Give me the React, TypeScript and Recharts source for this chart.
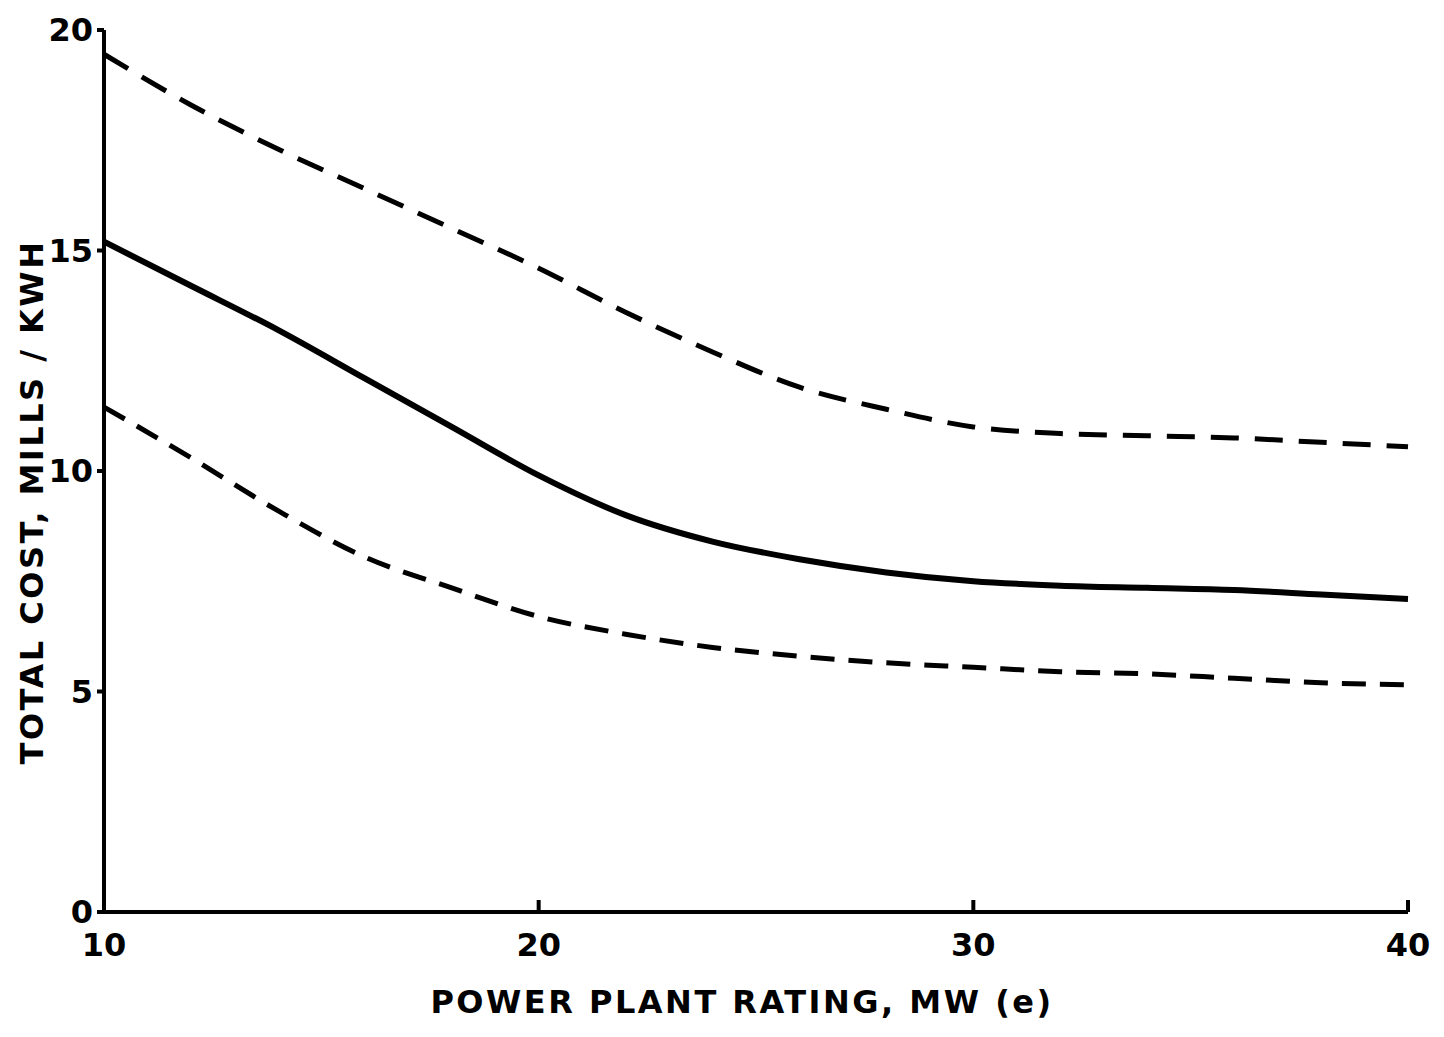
import { LineChart, Line, XAxis, YAxis } from "recharts";

const ratings = [10, 12, 14, 16, 18, 20, 22, 24, 26, 28, 30, 32, 34, 36, 38, 40];
const upperCost = [19.45, 18.3, 17.3, 16.4, 15.5, 14.6, 13.6, 12.7, 11.9, 11.4, 11.0, 10.85, 10.8, 10.75, 10.65, 10.55];
const totalCost = [15.2, 14.2, 13.2, 12.1, 11.0, 9.9, 9.0, 8.4, 8.0, 7.7, 7.5, 7.4, 7.35, 7.3, 7.2, 7.1];
const lowerCost = [11.45, 10.3, 9.1, 8.05, 7.35, 6.7, 6.3, 6.0, 5.8, 5.65, 5.55, 5.45, 5.4, 5.3, 5.2, 5.15];

const xTicks = [10, 20, 30, 40];
const yTicks = [0, 5, 10, 15, 20];

const data = ratings.map((r, i) => ({
  rating: r,
  upper: upperCost[i],
  total: totalCost[i],
  lower: lowerCost[i],
}));

const font = "'DejaVu Sans', sans-serif";

function XTick(props: any) {
  const { x, y, payload } = props;
  return (
    <g>
      {payload.value !== 10 && (
        <line x1={x} y1={y} x2={x} y2={y - 12} stroke="#000" strokeWidth={4} />
      )}
      <text
        x={x}
        y={y + 44}
        textAnchor="middle"
        fontFamily={font}
        fontWeight="bold"
        fontSize={32}
        fill="#000"
      >
        {payload.value}
      </text>
    </g>
  );
}

function XLabel() {
  return (
    <text
      x={742}
      y={1013}
      textAnchor="middle"
      fontFamily={font}
      fontWeight="bold"
      fontSize={32}
      letterSpacing={2.5}
      fill="#000"
    >
      POWER PLANT RATING, MW (e)
    </text>
  );
}

function YLabel() {
  return (
    <text
      x={43}
      y={502}
      transform="rotate(-90 43 502)"
      textAnchor="middle"
      fontFamily={font}
      fontWeight="bold"
      fontSize={32}
      letterSpacing={2.5}
      fill="#000"
    >
      TOTAL COST, MILLS / KWH
    </text>
  );
}

export default function App() {
  return (
    <div style={{ position: "absolute", left: 0, top: 0, background: "#fff" }}>
      <LineChart
        width={1444}
        height={1037}
        data={data}
        margin={{ top: 30, right: 36, bottom: 0, left: 0 }}
      >
        <XAxis
          dataKey="rating"
          type="number"
          domain={[10, 40]}
          ticks={xTicks}
          interval={0}
          tickSize={0}
          tickMargin={0}
          tickLine={false}
          tick={<XTick />}
          axisLine={{ stroke: "#000", strokeWidth: 4 }}
          label={<XLabel />}
          height={125}
        />
        <YAxis
          type="number"
          domain={[0, 20]}
          ticks={yTicks}
          interval={0}
          width={104}
          tickSize={7}
          tickMargin={4}
          tickLine={{ stroke: "#000", strokeWidth: 4 }}
          axisLine={{ stroke: "#000", strokeWidth: 4 }}
          tick={{ fontFamily: font, fontWeight: "bold", fontSize: 32, fill: "#000" }}
          label={<YLabel />}
        />
        <Line
          type="monotone"
          dataKey="upper"
          stroke="#000"
          strokeWidth={5}
          strokeDasharray="28 16"
          dot={false}
          isAnimationActive={false}
        />
        <Line
          type="monotone"
          dataKey="total"
          stroke="#000"
          strokeWidth={6}
          dot={false}
          isAnimationActive={false}
        />
        <Line
          type="monotone"
          dataKey="lower"
          stroke="#000"
          strokeWidth={5}
          strokeDasharray="24 14"
          dot={false}
          isAnimationActive={false}
        />
      </LineChart>
    </div>
  );
}
